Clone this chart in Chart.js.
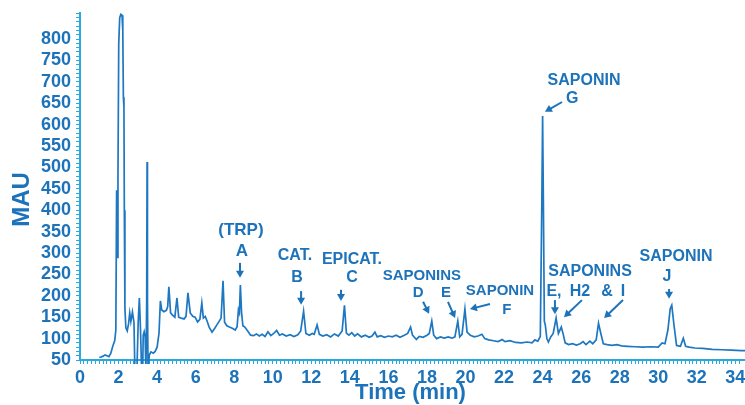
<!DOCTYPE html>
<html>
<head>
<meta charset="utf-8">
<script src="https://cdn.jsdelivr.net/npm/chart.js@4"></script>
<style>
  html, body { margin: 0; padding: 0; background: #fff; }
  canvas { display: block; }
</style>
</head>
<body>
<canvas id="chroma" width="745" height="405"></canvas>
<script>
// retention time (min) and absorbance (mAU)
const timeMin = [
  1.0, 1.1, 1.2, 1.3, 1.4, 1.5, 1.6, 1.7, 1.8, 1.86, 1.9, 1.93, 1.97, 2.01, 2.06, 2.12, 2.18, 2.22, 2.25, 2.28,
  2.3, 2.33, 2.38, 2.45, 2.52, 2.58, 2.64, 2.72, 2.8, 2.85, 2.95, 3.02, 3.08, 3.14, 3.2, 3.25, 3.28, 3.33, 3.38, 3.42,
  3.46, 3.48, 3.5, 3.53, 3.6, 3.68, 3.8, 3.9, 4.0, 4.1, 4.17, 4.24, 4.35, 4.48, 4.55, 4.61, 4.7, 4.8, 4.92, 5.03,
  5.12, 5.25, 5.4, 5.5, 5.6, 5.72, 5.85, 5.97, 6.1, 6.22, 6.32, 6.4, 6.5, 6.6, 6.7, 6.85, 7.0, 7.1, 7.2, 7.32,
  7.42, 7.5, 7.62, 7.75, 7.9, 8.05, 8.15, 8.22, 8.27, 8.32, 8.38, 8.45, 8.55, 8.7, 8.85, 9.0, 9.15, 9.3, 9.45, 9.6,
  9.75, 9.9, 10.05, 10.2, 10.35, 10.5, 10.7, 10.9, 11.1, 11.3, 11.45, 11.6, 11.72, 11.9, 12.05, 12.15, 12.3, 12.42, 12.6, 12.8,
  13.0, 13.2, 13.4, 13.6, 13.72, 13.82, 13.95, 14.1, 14.25, 14.4, 14.6, 14.8, 15.0, 15.15, 15.3, 15.42, 15.6, 15.8, 16.0, 16.2,
  16.4, 16.6, 16.8, 17.0, 17.15, 17.25, 17.45, 17.6, 17.8, 18.0, 18.12, 18.25, 18.35, 18.5, 18.7, 18.9, 19.1, 19.3, 19.45, 19.6,
  19.7, 19.82, 19.97, 20.08, 20.25, 20.45, 20.65, 20.85, 21.0, 21.2, 21.45, 21.7, 21.9, 22.05, 22.3, 22.6, 22.9, 23.2, 23.45, 23.6,
  23.75, 23.88, 23.96, 24.0, 24.04, 24.09, 24.14, 24.22, 24.3, 24.42, 24.55, 24.7, 24.82, 24.97, 25.07, 25.17, 25.35, 25.55, 25.75, 25.95,
  26.1, 26.25, 26.45, 26.6, 26.78, 26.9, 27.02, 27.15, 27.35, 27.6, 27.85, 28.1, 28.4, 28.8, 29.2, 29.6, 30.0, 30.2, 30.35, 30.5,
  30.62, 30.7, 30.82, 30.95, 31.15, 31.3, 31.42, 31.6, 31.9, 32.3, 32.8, 33.3, 33.8, 34.3, 34.5
];
const mau = [
  56, 57, 59, 62, 60, 58, 66, 82, 95, 120, 447, 290, 480, 790, 850, 858, 856, 820, 664, 640,
  400, 170, 125, 118, 135, 160, 140, 162, 138, 20, 20, 140, 195, 120, 20, 20, 108, 116, 104, 20,
  190, 513, 190, 30, 62, 69, 66, 70, 80, 113, 188, 167, 163, 166, 175, 221, 160, 155, 150, 195,
  150, 148, 146, 152, 207, 160, 152, 150, 139, 145, 183, 148, 152, 140, 127, 115, 125, 132, 139, 148,
  235, 138, 130, 127, 124, 120, 128, 167, 160, 225, 162, 130, 127, 118, 108, 107, 111, 106, 110, 105,
  116, 107, 112, 119, 108, 111, 106, 109, 105, 109, 118, 164, 112, 108, 112, 110, 132, 110, 106, 109,
  104, 111, 106, 118, 178, 113, 108, 114, 106, 111, 104, 108, 103, 106, 115, 104, 107, 103, 106, 104,
  108, 103, 107, 112, 127, 108, 98, 105, 103, 108, 112, 141, 108, 100, 104, 101, 104, 101, 104, 141,
  104, 110, 169, 115, 108, 104, 106, 110, 100, 97, 95, 93, 98, 93, 95, 91, 90, 92, 90, 97,
  94, 105, 420, 620, 420, 140, 132, 100, 92, 104, 112, 148, 112, 127, 110, 90, 86, 88, 85, 88,
  93, 86, 94, 88, 97, 136, 112, 88, 86, 84, 86, 83, 82, 81, 80, 81, 80, 90, 88, 120,
  170, 178, 130, 84, 82, 101, 82, 80, 78, 77, 75, 74, 73, 72, 72
];
const xTickLabels = [0, 2, 4, 6, 8, 10, 12, 14, 16, 18, 20, 22, 24, 26, 28, 30, 32, 34];
const yTickLabels = [50, 100, 150, 200, 250, 300, 350, 400, 450, 500, 550, 600, 650, 700, 750, 800];

// peak names, placed in data units (min, mAU)
const peakTexts = [
  { text: '(TRP)', t: 8.35, v: 354, size: 17 },
  { text: 'A', t: 8.40, v: 305, size: 17 },
  { text: 'CAT.', t: 11.15, v: 295, size: 16 },
  { text: 'B', t: 11.26, v: 242, size: 16 },
  { text: 'EPICAT.', t: 14.11, v: 284, size: 16 },
  { text: 'C', t: 14.11, v: 242, size: 16 },
  { text: 'SAPONINS', t: 17.74, v: 246, size: 15 },
  { text: 'D', t: 17.54, v: 207, size: 15 },
  { text: 'E', t: 18.99, v: 207, size: 15 },
  { text: 'SAPONIN', t: 21.79, v: 211, size: 15 },
  { text: 'F', t: 22.15, v: 167, size: 15 },
  { text: 'SAPONIN', t: 26.15, v: 702, size: 16 },
  { text: 'G', t: 25.53, v: 662, size: 16 },
  { text: 'SAPONINS', t: 26.46, v: 256, size: 16 },
  { text: 'E,', t: 24.59, v: 211, size: 16 },
  { text: 'H2', t: 25.94, v: 211, size: 16 },
  { text: '&', t: 27.34, v: 211, size: 16 },
  { text: 'I', t: 28.17, v: 211, size: 16 },
  { text: 'SAPONIN', t: 30.92, v: 291, size: 16 },
  { text: 'J', t: 30.45, v: 246, size: 16 }
];
const peakArrows = [
  { from: [8.30, 277], to: [8.30, 242] },
  { from: [11.47, 211], to: [11.47, 179] },
  { from: [13.54, 214], to: [13.54, 188] },
  { from: [17.80, 186], to: [18.11, 158] },
  { from: [19.09, 186], to: [19.46, 148] },
  { from: [21.27, 181], to: [20.23, 169] },
  { from: [25.01, 653], to: [24.12, 630] },
  { from: [24.64, 190], to: [24.64, 157] },
  { from: [26.04, 190], to: [25.11, 150] },
  { from: [28.17, 190], to: [27.19, 148] },
  { from: [30.56, 216], to: [30.56, 193] }
];

const FONT = '"Liberation Sans", Arial, sans-serif';
const BLUE = '#1d73ba';
const AXIS = '#2aa8e0';

const annotate = {
  id: 'annotate',
  afterDraw(chart) {
    const { ctx, chartArea } = chart;
    const x = chart.scales.x, y = chart.scales.y;
    ctx.save();
    ctx.fillStyle = BLUE;
    ctx.strokeStyle = BLUE;
    ctx.textAlign = 'center';
    ctx.textBaseline = 'middle';
    peakTexts.forEach(p => {
      ctx.font = `bold ${p.size}px ${FONT}`;
      ctx.fillText(p.text, x.getPixelForValue(p.t), y.getPixelForValue(p.v));
    });
    peakArrows.forEach(a => {
      const x0 = x.getPixelForValue(a.from[0]), y0 = y.getPixelForValue(a.from[1]);
      const x1 = x.getPixelForValue(a.to[0]), y1 = y.getPixelForValue(a.to[1]);
      const ang = Math.atan2(y1 - y0, x1 - x0);
      const c = Math.cos(ang), s = Math.sin(ang);
      const len = 7, half = 4;
      ctx.lineWidth = 2;
      ctx.beginPath();
      ctx.moveTo(x0, y0);
      ctx.lineTo(x1 - c * len * 0.7, y1 - s * len * 0.7);
      ctx.stroke();
      ctx.beginPath();
      ctx.moveTo(x1, y1);
      ctx.lineTo(x1 - c * len + s * half, y1 - s * len - c * half);
      ctx.lineTo(x1 - c * len - s * half, y1 - s * len + c * half);
      ctx.closePath();
      ctx.fill();
    });
    // axis titles
    ctx.font = `bold 22px ${FONT}`;
    ctx.fillText('Time (min)', (chartArea.left + chartArea.right) / 2 - 2, chartArea.bottom + 33);
    ctx.translate(22, (chartArea.top + chartArea.bottom) / 2 + 13);
    ctx.rotate(-Math.PI / 2);
    ctx.font = `bold 24px ${FONT}`;
    ctx.fillText('MAU', 0, 0);
    ctx.restore();
  }
};

const isLabel = (v, list) => list.some(l => Math.abs(l - v) < 1e-6);

new Chart(document.getElementById('chroma'), {
  type: 'line',
  data: {
    datasets: [{
      data: timeMin.map((t, i) => ({ x: t, y: mau[i] })),
      borderColor: '#1e77c1',
      borderWidth: 1.7,
      pointRadius: 0,
      tension: 0,
      fill: false,
      clip: { left: 0, top: 0, right: 0, bottom: 4 }
    }]
  },
  options: {
    responsive: false,
    animation: false,
    devicePixelRatio: 1,
    layout: { padding: { top: 13, right: 0, left: 0, bottom: 0 } },
    plugins: { legend: { display: false }, tooltip: { enabled: false } },
    scales: {
      x: {
        type: 'linear',
        min: 0,
        max: 34.5,
        afterFit: s => { s.height = 45; s.paddingLeft = 0; s.paddingRight = 0; },
        border: { display: true, color: AXIS, width: 2 },
        grid: { drawOnChartArea: false, drawTicks: true, tickLength: 4, color: AXIS, tickWidth: 1 },
        ticks: {
          stepSize: 0.2,
          autoSkip: false,
          maxRotation: 0,
          padding: 3,
          color: BLUE,
          font: { family: FONT, size: 18, weight: 'bold' },
          callback: v => isLabel(v, xTickLabels) ? String(Math.round(v)) : ''
        }
      },
      y: {
        min: 50,
        max: 861,
        afterFit: s => { s.width = 80; s.paddingTop = 0; s.paddingBottom = 0; },
        border: { display: true, color: AXIS, width: 2 },
        grid: { drawOnChartArea: false, drawTicks: true, tickLength: 4, color: AXIS, tickWidth: 1 },
        ticks: {
          stepSize: 10,
          autoSkip: false,
          padding: 5,
          color: BLUE,
          font: { family: FONT, size: 18, weight: 'bold' },
          callback: v => isLabel(v, yTickLabels) ? String(v) : ''
        }
      }
    }
  },
  plugins: [annotate]
});
</script>
</body>
</html>
